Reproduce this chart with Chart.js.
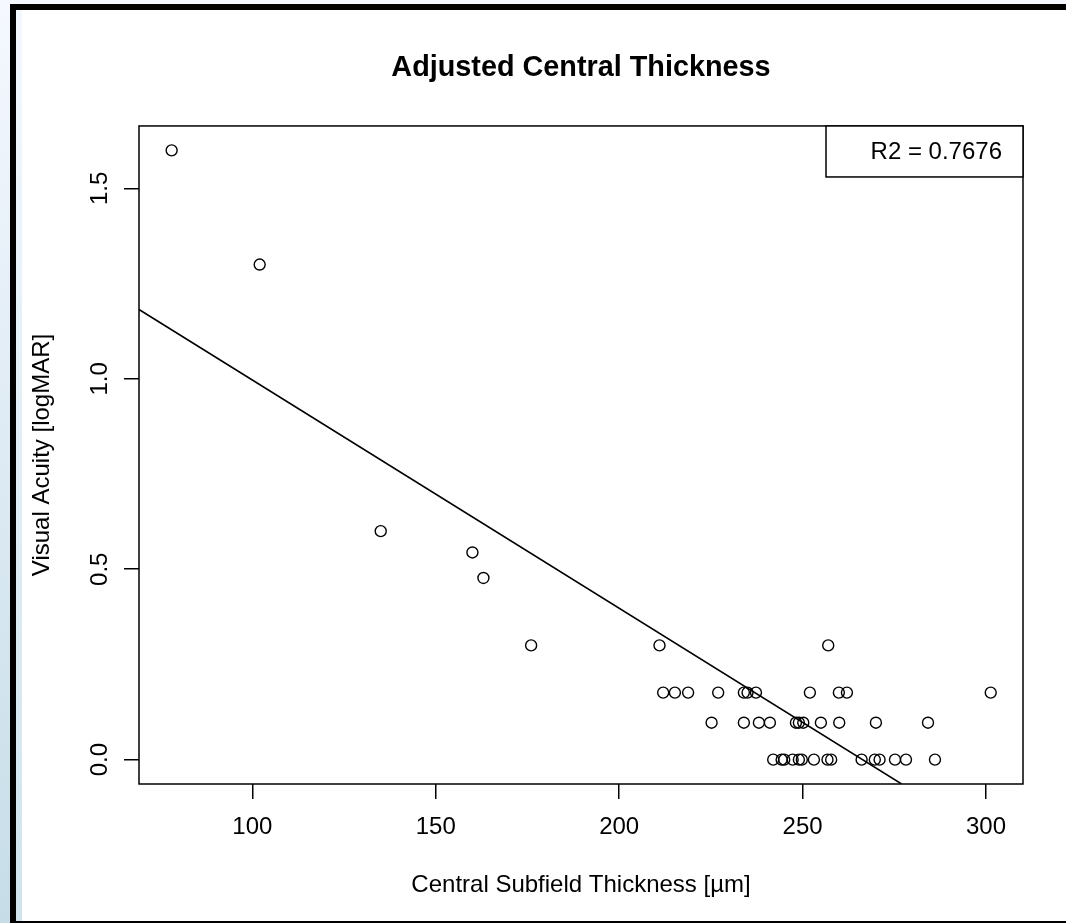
<!DOCTYPE html>
<html>
<head>
<meta charset="utf-8">
<title>Adjusted Central Thickness</title>
<script src="https://cdn.jsdelivr.net/npm/chart.js@4/dist/chart.umd.min.js"></script>
<style>
  body { margin: 0; background: #fff; }
  #frame { position: relative; width: 1066px; height: 923px; overflow: hidden; background: #fff; }
  .deco { position: absolute; }
  #stripOuter { left: 0; top: 0; width: 10px; height: 923px; background: linear-gradient(#f5f8ff, #c6dde8); }
  #bandTop { left: 10px; top: 0; width: 1056px; height: 4px; background: #f4f7fd; }
  #barTop { left: 10px; top: 4px; width: 1056px; height: 6px; background: #000; }
  #barLeft { left: 10px; top: 4px; width: 6px; height: 919px; background: #000; }
  #stripInner { left: 16px; top: 10px; width: 6px; height: 911px; background: linear-gradient(#f3f8fe, #cfe4ed); }
  #barBottom { left: 16px; top: 921px; width: 1050px; height: 2px; background: #000; }
  canvas { position: absolute; left: 0; top: 0; }
</style>
</head>
<body>
<div id="frame">
  <div class="deco" id="stripOuter"></div>
  <div class="deco" id="bandTop"></div>
  <div class="deco" id="barTop"></div>
  <div class="deco" id="barLeft"></div>
  <div class="deco" id="stripInner"></div>
  <div class="deco" id="barBottom"></div>
  <canvas id="acuityChart" width="1066" height="923"></canvas>
</div>
<script>
// Central subfield thickness [µm] and visual acuity [logMAR]
const thickness = [
    78, 102, 135, 160, 163, 176, 211, 257,
    212, 215.2, 218.8, 227, 234, 235, 237.3, 252, 259.9, 262.1, 301.3,
    225.2, 234, 238.1, 241.1, 248.2, 249, 250.2, 255, 260, 270, 284.2,
    242, 244.3, 245, 247.3, 249, 249.8, 253.1, 256.8, 257.8, 266.1, 269.7, 271, 275.2, 278.2, 286.1
];
const acuity = [
    1.6, 1.3, 0.6, 0.544, 0.477, 0.3, 0.3, 0.3,
    0.176, 0.176, 0.176, 0.176, 0.176, 0.176, 0.176, 0.176, 0.176, 0.176, 0.176,
    0.097, 0.097, 0.097, 0.097, 0.097, 0.097, 0.097, 0.097, 0.097, 0.097, 0.097,
    0, 0, 0, 0, 0, 0, 0, 0, 0, 0, 0, 0, 0, 0, 0
];

// Regression line end points (where it meets the plot frame)
const fitX = [69.1, 277.0];
const fitY = [1.182, -0.064];

const xTicks = [100, 150, 200, 250, 300];
const yTicks = [0, 0.5, 1.0, 1.5];
const xRange = [69.1, 310.1];
const yRange = [-0.064, 1.664];

const legendText = 'R2 = 0.7676';
const fontFamily = '"Liberation Sans", Arial, Helvetica, sans-serif';

// Helper to zip two arrays into {x, y} points
const toPoints = (xs, ys) => xs.map((x, i) => ({ x: x, y: ys[i] }));

// Draws the full box around the plot and the R2 legend in the top right corner
const plotBox = {
    id: 'plotBox',
    afterDraw(chart) {
        const { ctx, chartArea: a } = chart;
        ctx.save();
        ctx.strokeStyle = '#000';
        ctx.lineWidth = 1.5;
        ctx.strokeRect(a.left, a.top, a.right - a.left, a.bottom - a.top);

        const w = 197, h = 51;
        ctx.fillStyle = '#fff';
        ctx.fillRect(a.right - w, a.top, w, h);
        ctx.strokeRect(a.right - w, a.top, w, h);
        ctx.fillStyle = '#000';
        ctx.font = '24px ' + fontFamily;
        ctx.textAlign = 'right';
        ctx.textBaseline = 'middle';
        ctx.fillText(legendText, a.right - 21, a.top + 26);
        ctx.restore();
    }
};

const ctx = document.getElementById('acuityChart').getContext('2d');

new Chart(ctx, {
    type: 'scatter',
    data: {
        datasets: [
            {
                label: 'Eyes',
                data: toPoints(thickness, acuity),
                pointStyle: 'circle',
                pointRadius: 5.5,
                pointBorderWidth: 1.4,
                pointBorderColor: '#000',
                pointBackgroundColor: 'rgba(0,0,0,0)'
            },
            {
                type: 'line',
                label: 'Fit',
                data: toPoints(fitX, fitY),
                borderColor: '#000',
                borderWidth: 1.5,
                pointRadius: 0,
                fill: false
            }
        ]
    },
    options: {
        responsive: false,
        animation: false,
        devicePixelRatio: 1,
        layout: { padding: { left: 0, right: 43, top: 0, bottom: 0 } },
        plugins: {
            legend: { display: false },
            tooltip: { enabled: false },
            title: {
                display: true,
                fullSize: false,
                text: 'Adjusted Central Thickness',
                color: '#000',
                font: { family: fontFamily, size: 28.8, weight: 'bold' },
                padding: { top: 50.7, bottom: 40.7 }
            }
        },
        scales: {
            x: {
                type: 'linear',
                min: xRange[0],
                max: xRange[1],
                afterBuildTicks: (scale) => { scale.ticks = xTicks.map(v => ({ value: v })); },
                afterFit: (scale) => { scale.height = 139; },
                grid: { drawOnChartArea: false, drawTicks: true, tickLength: 15, color: '#000', lineWidth: 1.5 },
                border: { display: false },
                ticks: {
                    color: '#000',
                    padding: 14,
                    font: { family: fontFamily, size: 24 },
                    callback: (value) => String(value)
                },
                title: {
                    display: true,
                    text: 'Central Subfield Thickness [µm]',
                    color: '#000',
                    font: { family: fontFamily, size: 24 },
                    padding: { top: 0, bottom: 23.6 }
                }
            },
            y: {
                type: 'linear',
                min: yRange[0],
                max: yRange[1],
                afterBuildTicks: (scale) => { scale.ticks = yTicks.map(v => ({ value: v })); },
                afterFit: (scale) => { scale.width = 139; },
                grid: { drawOnChartArea: false, drawTicks: true, tickLength: 15, color: '#000', lineWidth: 1.5 },
                border: { display: false },
                ticks: {
                    color: '#000',
                    padding: 7,
                    minRotation: 90,
                    maxRotation: 90,
                    crossAlign: 'center',
                    font: { family: fontFamily, size: 24 },
                    callback: (value) => value.toFixed(1)
                },
                title: {
                    display: true,
                    text: 'Visual Acuity [logMAR]',
                    color: '#000',
                    font: { family: fontFamily, size: 24 },
                    padding: { top: 27.6, bottom: 0 }
                }
            }
        }
    },
    plugins: [plotBox]
});
</script>
</body>
</html>
